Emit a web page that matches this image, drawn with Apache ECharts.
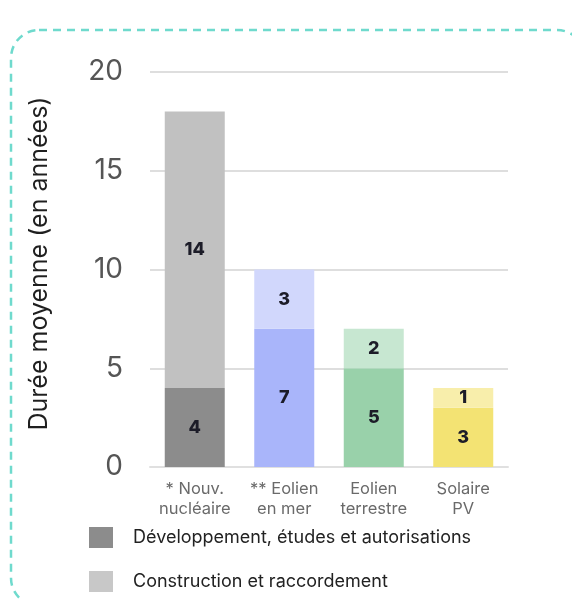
<!DOCTYPE html>
<html>
<head>
<meta charset="utf-8">
<script src="https://cdn.jsdelivr.net/npm/echarts@6/dist/echarts.min.js"></script>
<style>
html,body{margin:0;padding:0;background:#fff;}
#c{width:572px;height:599px;}
</style>
</head>
<body>
<div id="c"></div>
<script>
const categories = ['* Nouv.\nnucléaire', '** Eolien\nen mer', 'Eolien\nterrestre', 'Solaire\nPV'];
const devValues = [4, 7, 5, 3];
const constrValues = [14, 3, 2, 1];
const devColors = ['#8c8c8c', '#a9b5fa', '#99d1aa', '#f3e373'];
const constrColors = ['#c1c1c1', '#d1d7fc', '#c7e7d1', '#f8eeab'];
const seriesNames = ['Développement, études et autorisations', 'Construction et raccordement'];
const yTicks = [0, 5, 10, 15, 20];

const chart = echarts.init(document.getElementById('c'), null, {renderer: 'canvas'});
const font = 'Inter, "Noto Sans", sans-serif';
const labelStyle = {show: true, position: 'inside', fontWeight: 800, fontSize: 18, color: '#1c1c28', fontFamily: font};
const legendBase = {
  orient: 'vertical', left: 84, itemWidth: 24, itemHeight: 21,
  icon: 'rect',
  textStyle: {fontSize: 18, color: '#222', fontFamily: font, padding: [0, 0, 0, 15]}
};

chart.setOption({
  animation: false,
  textStyle: {fontFamily: font},
  graphic: [{
    type: 'rect',
    shape: {x: 11, y: 30, width: 574, height: 576, r: 28},
    style: {fill: 'none', stroke: '#6fdacd', lineWidth: 2.5, lineDash: [8, 6]},
    z: -1
  }],
  grid: {left: 150, right: 64, top: 72, bottom: 132},
  legend: [
    Object.assign({}, legendBase, {top: 522, data: [{name: seriesNames[0], itemStyle: {color: '#8c8c8c'}}]}),
    Object.assign({}, legendBase, {top: 566, data: [{name: seriesNames[1], itemStyle: {color: '#c8c8c8'}}]})
  ],
  xAxis: {
    type: 'category', data: categories,
    axisLine: {lineStyle: {color: '#e0e0e0', width: 2}},
    axisTick: {show: false},
    axisLabel: {fontSize: 16.5, color: '#6a6a6a', lineHeight: 20, margin: 12, interval: 0, fontFamily: font}
  },
  yAxis: {
    type: 'value', min: 0, max: 20, interval: 5,
    name: 'Durée moyenne (en années)', nameLocation: 'middle', nameGap: 98, nameRotate: 90,
    nameTextStyle: {fontSize: 25, color: '#1f1f1f', fontFamily: font, padding: [0, 0, 0, 12]},
    axisLabel: {fontSize: 28, color: '#555', margin: 27, fontFamily: font,
      formatter: v => yTicks.includes(v) ? String(v) : ''},
    splitLine: {lineStyle: {color: '#dedede', width: 2}},
    axisLine: {show: false}, axisTick: {show: false}
  },
  series: [
    {
      name: seriesNames[0], type: 'bar', stack: 's', barWidth: 60,
      itemStyle: {color: '#8c8c8c'},
      label: labelStyle,
      data: devValues.map((v, i) => ({value: v, itemStyle: {color: devColors[i]}}))
    },
    {
      name: seriesNames[1], type: 'bar', stack: 's', barWidth: 60,
      itemStyle: {color: '#c8c8c8'},
      label: labelStyle,
      data: constrValues.map((v, i) => ({value: v, itemStyle: {color: constrColors[i]}}))
    }
  ]
});
</script>
</body>
</html>
